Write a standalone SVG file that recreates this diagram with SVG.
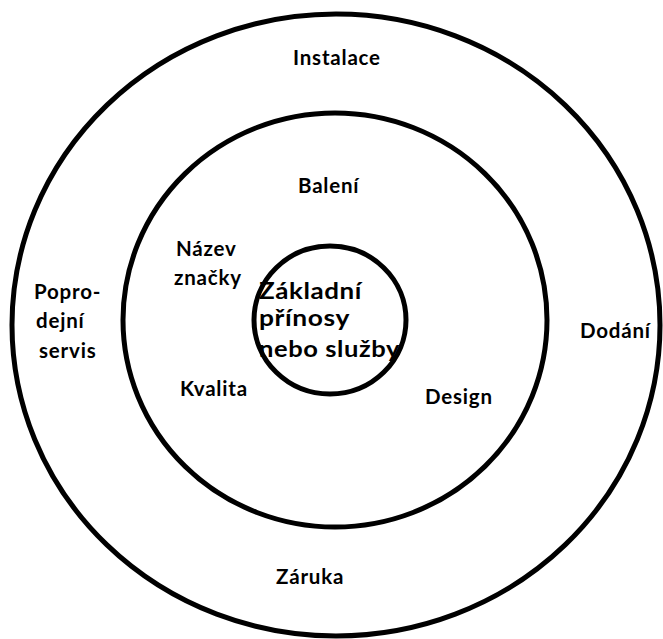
<svg xmlns="http://www.w3.org/2000/svg" width="663" height="639" viewBox="0 0 663 639">
<style>
.ring{fill:none;stroke:#000;stroke-width:5}
.t{font-family:Lato,"Open Sans","DejaVu Sans",sans-serif;font-weight:bold;font-size:20.5px;letter-spacing:0.8px;fill:#000}
.c{font-size:22px;letter-spacing:0.5px}
</style>
<rect width="663" height="639" fill="#fff"/>
<g id="outer"><ellipse class="ring" cx="336" cy="325" rx="324" ry="311"/></g>
<g id="middle"><ellipse class="ring" cx="335" cy="320" rx="212" ry="207"/></g>
<g id="inner"><ellipse class="ring" cx="330" cy="320" rx="76" ry="74"/></g>
<g id="instalace"><text class="t" x="293" y="65">Instalace</text></g>
<g id="baleni"><text class="t" x="298" y="193">Balení</text></g>
<g id="nazev"><text class="t" x="176" y="256">Název</text><text class="t" x="174" y="285">značky</text></g>
<g id="zakladni"><text class="t c" x="259" y="299" textLength="103" lengthAdjust="spacingAndGlyphs">Základní</text><text class="t c" x="259" y="326" textLength="91" lengthAdjust="spacingAndGlyphs">přínosy</text><text class="t c" x="259" y="357" textLength="141" lengthAdjust="spacingAndGlyphs">nebo služby</text></g>
<g id="poprodejni"><text class="t" x="34" y="299">Popro-</text><text class="t" x="36" y="328">dejní</text><text class="t" x="39" y="358">servis</text></g>
<g id="dodani"><text class="t" x="580" y="338">Dodání</text></g>
<g id="design"><text class="t" x="425" y="404">Design</text></g>
<g id="kvalita"><text class="t" x="180" y="396">Kvalita</text></g>
<g id="zaruka"><text class="t" x="276" y="584">Záruka</text></g>
<g id="connectors"/>
</svg>
